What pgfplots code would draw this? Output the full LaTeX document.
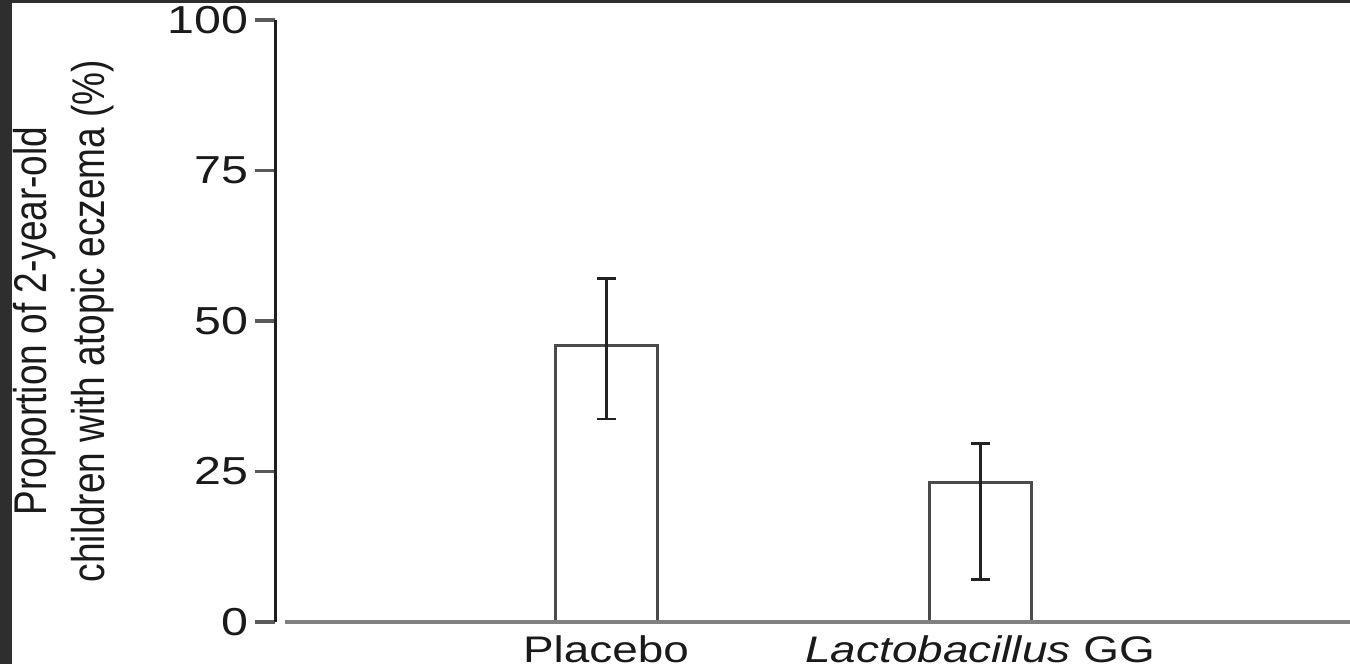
\documentclass[border=0pt]{standalone}
\usepackage{pgfplots}
\pgfplotsset{compat=1.18}
\usepackage{fontspec}
\setmainfont[FakeStretch=1.24]{Liberation Sans}
\newfontfamily\labfont{Liberation Sans}
\definecolor{frame}{HTML}{2E2E2E}
\definecolor{txt}{HTML}{1A1A1A}
\definecolor{yaxis}{HTML}{1E1E1E}
\definecolor{xaxis}{HTML}{808080}
\definecolor{ytk}{HTML}{5A5A5A}
\definecolor{bard}{HTML}{4A4A4A}
\definecolor{errc}{HTML}{222222}

\begin{document}
\begin{tikzpicture}
% picture is 1350x664 px, 1 px = 0.5 bp
\useasboundingbox (0,0) rectangle (675bp,332bp);
\fill[white] (0,0) rectangle (675bp,332bp);
\fill[frame] (0,0) rectangle (6bp,332bp);
\fill[frame] (0,330.5bp) rectangle (675bp,332bp);
\begin{axis}[
  at={(137.5bp,21bp)}, anchor=south west,
  scale only axis,
  width=537.5bp, height=301bp,
  xmin=275, xmax=1350,
  ymin=0, ymax=100,
  clip=false,
  axis line style={draw=none},
  ybar, bar width=51bp,
  xtick={606,980},
  xticklabels={Placebo,\textit{Lactobacillus} GG},
  ytick={0,25,50,75,100},
  ytick pos=left,
  tick align=outside,
  major tick length=10bp,
  x tick style={draw=none},
  y tick style={draw=ytk,line width=1.6bp},
  /pgf/number format/assume math mode=true,
  xticklabel style={font=\fontsize{18.5bp}{22bp}\selectfont, text=txt, yshift=6.5bp},
  yticklabel style={font=\fontsize{19.5bp}{23bp}\selectfont, text=txt, anchor=east},
  ylabel={\scalebox{1}[1.24]{\labfont\fontsize{18.5bp}{23.4bp}\selectfont\begin{tabular}{@{}c@{}}Proportion of 2-year-old\\children with atopic eczema (\%)\end{tabular}}},
  every axis y label/.style={at={(axis cs:64,50)}, rotate=90, anchor=center, text=txt},
]
\addplot[draw=bard, fill=white, line width=1.5bp,
  error bars/.cd, y dir=both, y explicit,
  error bar style={draw=errc, line width=1.5bp},
  error mark options={draw=errc, rotate=90, mark size=4.75bp, line width=1.3bp}]
  coordinates {
    (606,46.0) += (0,11.1) -= (0,12.3)
    (980,23.1) += (0,6.6) -= (0,16.0)
  };
\draw[xaxis, line width=2.4bp] (axis cs:285,0) -- (axis cs:1350,0);
\draw[yaxis, line width=1.5bp] (axis cs:275,0) -- (axis cs:275,100);
\end{axis}
\end{tikzpicture}
\end{document}
